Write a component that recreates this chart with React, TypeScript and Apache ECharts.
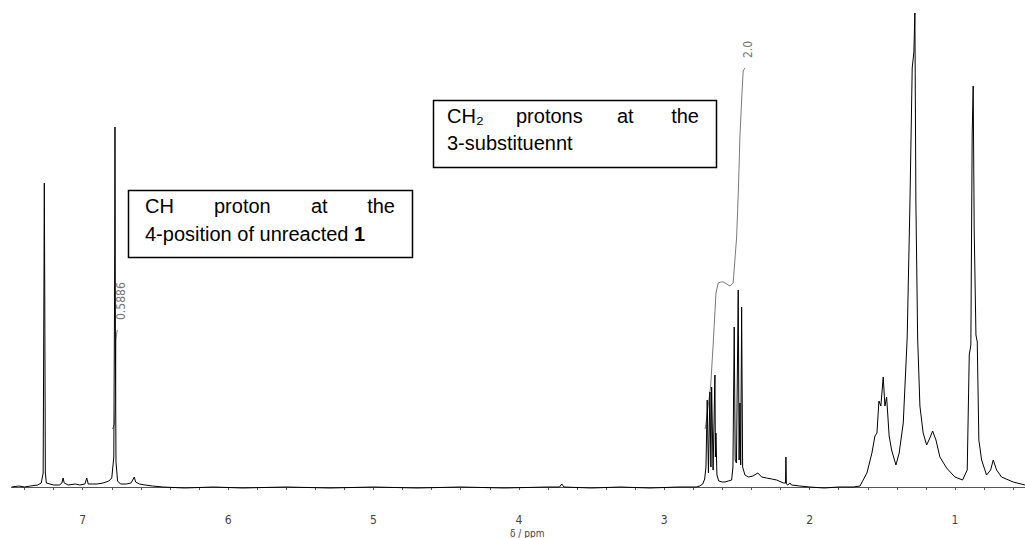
import React, { useEffect, useRef } from "react";
import * as echarts from "echarts";

// 1H NMR spectrum, [δ / ppm, intensity (arbitrary units)]
const aromaticRegion: [number, number][] = [
  [7.489, 0], [7.44, 1], [7.4, 0], [7.36, 1], [7.31, 2], [7.285, 4], [7.272, 14],
  [7.2665, 204], [7.264, 304], [7.261, 200], [7.257, 14], [7.25, 4], [7.2, 2],
  [7.16, 2], [7.143, 4], [7.135, 9], [7.127, 4], [7.1, 2], [7.05, 3], [7.02, 2],
  [6.985, 3], [6.972, 9], [6.962, 3], [6.93, 3], [6.9, 3], [6.86, 4], [6.82, 6],
  [6.8, 9], [6.786, 30], [6.7805, 200], [6.778, 360], [6.775, 150], [6.771, 25],
  [6.76, 6], [6.74, 3], [6.7, 3], [6.668, 4], [6.652, 8], [6.645, 10], [6.636, 5],
  [6.61, 3], [6.57, 2], [6.52, 1], [6.45, 0],
];

const baselineRegion: [number, number][] = [
  [6.3, -1], [6.1, 0], [5.9, -1], [5.6, 0], [5.3, -1], [5.0, 0], [4.7, -1],
  [4.4, 0], [4.1, -1], [3.8, 0], [3.72, 0], [3.705, 3], [3.69, 0], [3.5, -1],
  [3.3, 0], [3.1, -1], [2.9, 0], [2.78, 0],
];

const ch2Region: [number, number][] = [
  [2.755, 1], [2.735, 3], [2.722, 8], [2.713, 20], [2.7043, 87], [2.696, 14],
  [2.6857, 95], [2.679, 20], [2.674, 100], [2.664, 17], [2.6513, 112], [2.648, 30],
  [2.6444, 54], [2.6376, 12], [2.625, 6], [2.6, 5], [2.5825, 5], [2.56, 6],
  [2.5365, 7], [2.5275, 20], [2.5186, 160], [2.512, 27], [2.5034, 24],
  [2.4911, 197], [2.485, 27], [2.4794, 84], [2.474, 22], [2.4677, 180],
  [2.4608, 20], [2.445, 12], [2.42, 10], [2.39, 11], [2.356, 14], [2.33, 10],
  [2.296, 9], [2.26, 8], [2.227, 7], [2.18, 4], [2.166, 4], [2.163, 30],
  [2.16, 3], [2.15, 2], [2.1355, 4], [2.125, 2], [2.067, 1], [2.0, 0], [1.9, -1],
  [1.8, 0], [1.7, 0],
];

const alkylRegion: [number, number][] = [
  [1.654, 1], [1.606, 14], [1.5715, 34], [1.551, 51], [1.537, 54], [1.5234, 86],
  [1.51, 81], [1.494, 110], [1.482, 81], [1.4704, 90], [1.453, 51], [1.436, 37],
  [1.4065, 22], [1.384, 34], [1.356, 64], [1.329, 149], [1.31, 284], [1.2944, 419],
  [1.283, 435], [1.276, 474], [1.269, 284], [1.257, 149], [1.2414, 81], [1.219, 54],
  [1.195, 42], [1.173, 49], [1.154, 56], [1.131, 47], [1.104, 30], [1.058, 19],
  [1.001, 10], [0.948, 7], [0.916, 17], [0.902, 132], [0.891, 142], [0.882, 352],
  [0.875, 401], [0.868, 257], [0.856, 152], [0.847, 145], [0.836, 47], [0.817, 27],
  [0.783, 12], [0.755, 17], [0.737, 27], [0.714, 17], [0.68, 10], [0.6, 5],
  [0.519, 2],
];

// Integral curves
const integralAromatic: [number, number][] = [
  [6.797, 58], [6.792, 59], [6.781, 63], [6.774, 87], [6.771, 147], [6.765, 155],
  [6.761, 157],
];
const integralCH2: [number, number][] = [
  [2.722, 58], [2.717, 59], [2.697, 82], [2.681, 100], [2.663, 144], [2.644, 194],
  [2.629, 204], [2.61, 205], [2.594, 205], [2.57, 203], [2.548, 201], [2.526, 204],
  [2.514, 227], [2.502, 250], [2.49, 297], [2.479, 352], [2.466, 392], [2.457, 416],
  [2.445, 419],
];
const integralLabels = ["0.5886", "2.0"];

// Axis ticks
const majorTicks = [7, 6, 5, 4, 3, 2, 1];
const minorTicks = [
  7.4, 7.2, 7.0, 6.8, 6.6, 6.4, 6.2, 6.0, 5.8, 5.6, 5.4, 5.2, 5.0, 4.8, 4.6, 4.4,
  4.2, 4.0, 3.8, 3.6, 3.4, 3.2, 3.0, 2.8, 2.6, 2.4, 2.2, 2.0, 1.8, 1.6, 1.4, 1.2,
  1.0, 0.8, 0.6,
];
const axisName = "δ / ppm";

const narrowFont = "'Liberation Sans Narrow', 'DejaVu Sans Condensed', 'Liberation Sans', sans-serif";
const textFont = "'Liberation Sans', Arial, sans-serif";

export default function App() {
  const ref = useRef<HTMLDivElement>(null);

  useEffect(() => {
    if (!ref.current) return;
    const chart = echarts.init(ref.current, undefined, { renderer: "svg" });
    const spectrum = [...aromaticRegion, ...baselineRegion, ...ch2Region, ...alkylRegion];

    const boxText = (x: number, y: number, text: string, align: string = "left", rich?: any) => ({
      type: "text",
      x,
      y,
      silent: true,
      style: {
        text,
        fontSize: 20,
        fontFamily: textFont,
        fill: "#000",
        align,
        verticalAlign: "middle",
        rich,
      },
    });

    chart.setOption({
      animation: false,
      backgroundColor: "#fff",
      grid: { left: 11.5, right: 0, top: 0, bottom: 27, containLabel: false, outerBoundsMode: "none" },
      xAxis: {
        type: "value",
        inverse: true,
        min: 0.5186,
        max: 7.4897,
        axisLine: { show: true, lineStyle: { color: "#555", width: 1 } },
        axisTick: { show: true, customValues: minorTicks, length: 3, lineStyle: { color: "#555" } },
        axisLabel: {
          customValues: majorTicks,
          fontSize: 12,
          color: "#444",
          margin: 3,
          fontFamily: narrowFont,
          formatter: (v: number) => String(v),
        },
        splitLine: { show: false },
      },
      yAxis: { type: "value", min: -24, max: 487, show: false },
      series: [
        {
          type: "line",
          data: spectrum,
          symbol: "none",
          silent: true,
          lineStyle: { color: "#000", width: 1 },
          z: 3,
        },
        {
          type: "line",
          data: integralAromatic,
          symbol: "none",
          silent: true,
          lineStyle: { color: "#7a7a7a", width: 1 },
          z: 2,
        },
        {
          type: "line",
          data: integralCH2,
          symbol: "none",
          silent: true,
          lineStyle: { color: "#7a7a7a", width: 1 },
          z: 2,
        },
      ],
    });

    const end1 = chart.convertToPixel({ gridIndex: 0 }, integralAromatic[integralAromatic.length - 1]) as number[];
    const end2 = chart.convertToPixel({ gridIndex: 0 }, integralCH2[integralCH2.length - 1]) as number[];

    chart.setOption({
      graphic: [
        {
          type: "text",
          x: end1[0] + 4,
          y: end1[1] - 10,
          rotation: Math.PI / 2,
          silent: true,
          style: { text: integralLabels[0], fontSize: 12, fontFamily: narrowFont, fill: "#777", align: "left", verticalAlign: "middle" },
        },
        {
          type: "text",
          x: end2[0] + 3,
          y: end2[1] - 10,
          rotation: Math.PI / 2,
          silent: true,
          style: { text: integralLabels[1], fontSize: 12, fontFamily: narrowFont, fill: "#777", align: "left", verticalAlign: "middle" },
        },
        {
          type: "text",
          x: 510,
          y: 533,
          silent: true,
          style: { text: axisName, fontSize: 10, fontFamily: narrowFont, fill: "#444", align: "left", verticalAlign: "middle" },
        },
        // Box 1
        {
          type: "rect",
          shape: { x: 128.5, y: 190.5, width: 284, height: 67 },
          silent: true,
          style: { fill: "#fff", stroke: "#000", lineWidth: 1.5 },
        },
        boxText(145, 206, "CH"),
        boxText(214, 206, "proton"),
        boxText(311, 206, "at"),
        boxText(395, 206, "the", "right"),
        boxText(145, 234, "4-position of unreacted {b|1}", "left", {
          b: { fontWeight: "bold", fontSize: 20, fontFamily: textFont, fill: "#000" },
        }),
        // Box 2
        {
          type: "rect",
          shape: { x: 433.5, y: 100.5, width: 283, height: 67 },
          silent: true,
          style: { fill: "#fff", stroke: "#000", lineWidth: 1.5 },
        },
        boxText(447, 116, "CH₂"),
        boxText(516, 116, "protons"),
        boxText(617, 116, "at"),
        boxText(699, 116, "the", "right"),
        boxText(447, 143, "3-substituennt"),
      ],
    });

    return () => chart.dispose();
  }, []);

  return <div ref={ref} style={{ position: "absolute", left: 0, top: 0, width: 1025, height: 538 }} />;
}
